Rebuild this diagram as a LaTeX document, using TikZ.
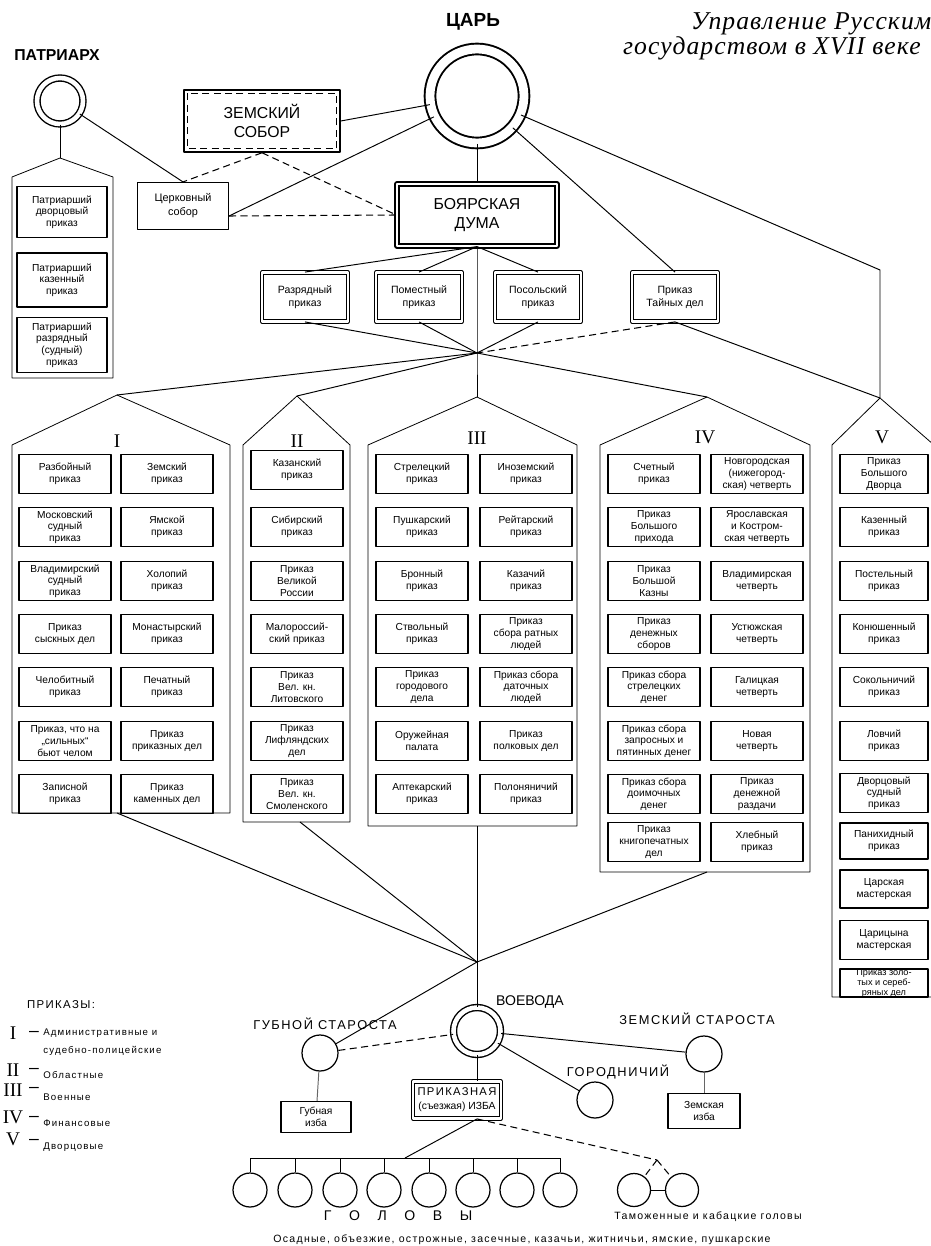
\documentclass[tikz,border=0pt]{standalone}
\usepackage{fontspec}
\setmainfont{Liberation Sans}
\newfontfamily\romfont{Liberation Serif}
\newfontfamily\spfont[LetterSpace=12]{Liberation Sans}
\newfontfamily\ttlfont[LetterSpace=4]{Liberation Serif}
\usepackage{tikz}
\usetikzlibrary{positioning}

\begin{document}
\begin{tikzpicture}[x=0.02cm, y=-0.02cm, line join=round,
   prbox/.style={draw, line width=0.65pt, minimum width=1.84cm, minimum height=0.78cm,
                 inner sep=0.5pt, align=center, font=\fontsize{5.8}{6.6}\selectfont},
   mid/.style={draw, double, double distance=1.3pt, line width=0.5pt, minimum width=1.72cm,
               minimum height=0.98cm, inner sep=1pt, align=center, font=\fontsize{6}{7.4}\selectfont},
   ring/.style={circle, draw, double, inner sep=0pt},
   officer/.style={circle, draw, line width=0.7pt, inner sep=0pt, minimum size=0.72cm},
   house/.style={line width=0.45pt},
   lnk/.style={line width=0.55pt},
   dsh/.style={line width=0.6pt, dash pattern=on 4pt off 2.5pt},
   rom/.style={font=\romfont\fontsize{11}{12}\selectfont, inner sep=0pt},
   capslbl/.style={font=\spfont\fontsize{7.3}{8}\selectfont, inner sep=0pt},
   legtext/.style={font=\spfont\fontsize{5.5}{10.5}\selectfont, inner sep=0pt, anchor=west, align=left}]
  \useasboundingbox (0,0) rectangle (930,1246);

  \node[anchor=north east, align=right, inner sep=0pt,
        font=\ttlfont\itshape\fontsize{14.6}{11.5}\selectfont] (title) at (921,12)
       {Управление Русским\hspace*{-6pt}\\государством в XVII веке};

  \node[ring, minimum size=1.88cm, line width=1.1pt, double distance=5pt] (tsar) at (477,96) {};
  \node[font=\bfseries\fontsize{10.8}{12}\selectfont] (tsarl) at (473,22) {ЦАРЬ};
  \node[ring, minimum size=0.92cm, line width=0.8pt, double distance=2.6pt] (patr) at (60,101) {};
  \node[font=\bfseries\fontsize{9}{10}\selectfont] (patrl) at (57,55) {ПАТРИАРХ};

  \node[draw, line width=0.9pt, minimum width=3.12cm, minimum height=1.24cm, align=center,
        font=\fontsize{9}{11}\selectfont] (zs) at (262,121) {ЗЕМСКИЙ\\СОБОР};
  \draw[dsh, line width=0.7pt] ([shift={(4,4)}]zs.north west) rectangle ([shift={(-4,-4)}]zs.south east);
  \node[prbox, minimum width=1.82cm, minimum height=0.94cm, font=\fontsize{6.2}{8}\selectfont]
       (cerk) at (183,206) {Церковный\\собор};
  \node[draw, double, double distance=1.5pt, line width=0.7pt, minimum width=3.2cm,
        minimum height=1.24cm, align=center, font=\fontsize{9}{11}\selectfont]
       (duma) at (477,215) {БОЯРСКАЯ\\ДУМА};

  \node[mid] (razr)   at (305,297) {Разрядный\\приказ};
  \node[mid] (pomest) at (419,297) {Поместный\\приказ};
  \node[mid] (posol)  at (538,297) {Посольский\\приказ};
  \node[mid] (tain)   at (675,297) {Приказ\\Тайных дел};

  \coordinate (hub)   at (477,353);
  \coordinate (vtop)  at (880,270);
  \coordinate (apP)   at (60,158);
  \coordinate (apI)   at (117,395);
  \coordinate (apII)  at (297,396);
  \coordinate (apIII) at (477,397);
  \coordinate (apIV)  at (707,397);
  \coordinate (apV)   at (880,398);
  \coordinate (ftI)   at (117,813);
  \coordinate (ftII)  at (300,822);
  \coordinate (ftIII) at (477,826);
  \coordinate (ftIV)  at (707,872);
  \coordinate (hubB)  at (477,962);

  \draw[house] (apP) -- (113,177) -- (113,378) -- (12,378) -- (12,177) -- cycle;
  \draw[house] (apI) -- (230,445) -- (230,813) -- (12,813) -- (12,445) -- cycle;
  \draw[house] (apII) -- (350,445) -- (350,822) -- (243,822) -- (243,445) -- cycle;
  \draw[house] (apIII) -- (577,445) -- (577,826) -- (368,826) -- (368,445) -- cycle;
  \draw[house] (apIV) -- (810,445) -- (810,872) -- (600,872) -- (600,445) -- cycle;
  \draw[house] (apV) -- (934,445) -- (934,997) -- (832,997) -- (832,445) -- cycle;

  \node[rom] (nI)   at (117,441) {I};
  \node[rom] (nII)  at (297,441) {II};
  \node[rom] (nIII) at (477,438) {III};
  \node[rom] (nIV)  at (705,437) {IV};
  \node[rom] (nV)   at (882,437) {V};

  \node[prbox, minimum width=1.8cm, minimum height=1.02cm] (patr1) at (62,212) {Патриарший\\дворцовый\\приказ};
  \node[prbox, minimum width=1.8cm, minimum height=1.08cm] (patr2) at (62,280) {Патриарший\\казенный\\приказ};
  \node[prbox, minimum width=1.8cm, minimum height=1.1cm] (patr3) at (62,345) {Патриарший\\разрядный\\(судный)\\приказ};

  \node[prbox] (adm-l1) at (65,474) {Разбойный\\приказ};
  \node[prbox] (adm-l2) at (65,527) {Московский\\судный\\приказ};
  \node[prbox] (adm-l3) at (65,581) {Владимирский\\судный\\приказ};
  \node[prbox] (adm-l4) at (65,634) {Приказ\\сыскных дел};
  \node[prbox] (adm-l5) at (65,687) {Челобитный\\приказ};
  \node[prbox] (adm-l6) at (65,741) {Приказ, что на\\„сильных“\\бьют челом};
  \node[prbox] (adm-l7) at (65,794) {Записной\\приказ};
  \node[prbox] (adm-r1) at (167,474) {Земский\\приказ};
  \node[prbox] (adm-r2) at (167,527) {Ямской\\приказ};
  \node[prbox] (adm-r3) at (167,581) {Холопий\\приказ};
  \node[prbox] (adm-r4) at (167,634) {Монастырский\\приказ};
  \node[prbox] (adm-r5) at (167,687) {Печатный\\приказ};
  \node[prbox] (adm-r6) at (167,741) {Приказ\\приказных дел};
  \node[prbox] (adm-r7) at (167,794) {Приказ\\каменных дел};

  \node[prbox] (obl1) at (297,470) {Казанский\\приказ};
  \node[prbox] (obl2) at (297,527) {Сибирский\\приказ};
  \node[prbox] (obl3) at (297,581) {Приказ\\Великой\\России};
  \node[prbox] (obl4) at (297,634) {Малороссий-\\ский приказ};
  \node[prbox] (obl5) at (297,687) {Приказ\\Вел. кн.\\Литовского};
  \node[prbox] (obl6) at (297,741) {Приказ\\Лифляндских\\дел};
  \node[prbox] (obl7) at (297,794) {Приказ\\Вел. кн.\\Смоленского};

  \node[prbox] (voen-l1) at (422,474) {Стрелецкий\\приказ};
  \node[prbox] (voen-l2) at (422,527) {Пушкарский\\приказ};
  \node[prbox] (voen-l3) at (422,581) {Бронный\\приказ};
  \node[prbox] (voen-l4) at (422,634) {Ствольный\\приказ};
  \node[prbox] (voen-l5) at (422,687) {Приказ\\городового\\дела};
  \node[prbox] (voen-l6) at (422,741) {Оружейная\\палата};
  \node[prbox] (voen-l7) at (422,794) {Аптекарский\\приказ};
  \node[prbox] (voen-r1) at (526,474) {Иноземский\\приказ};
  \node[prbox] (voen-r2) at (526,527) {Рейтарский\\приказ};
  \node[prbox] (voen-r3) at (526,581) {Казачий\\приказ};
  \node[prbox] (voen-r4) at (526,634) {Приказ\\сбора ратных\\людей};
  \node[prbox] (voen-r5) at (526,687) {Приказ сбора\\даточных\\людей};
  \node[prbox] (voen-r6) at (526,741) {Приказ\\полковых дел};
  \node[prbox] (voen-r7) at (526,794) {Полоняничий\\приказ};

  \node[prbox] (fin-l1) at (654,474) {Счетный\\приказ};
  \node[prbox] (fin-l2) at (654,527) {Приказ\\Большого\\прихода};
  \node[prbox] (fin-l3) at (654,581) {Приказ\\Большой\\Казны};
  \node[prbox] (fin-l4) at (654,634) {Приказ\\денежных\\сборов};
  \node[prbox] (fin-l5) at (654,687) {Приказ сбора\\стрелецких\\денег};
  \node[prbox] (fin-l6) at (654,741) {Приказ сбора\\запросных и\\пятинных денег};
  \node[prbox] (fin-l7) at (654,794) {Приказ сбора\\доимочных\\денег};
  \node[prbox] (fin-l8) at (654,842) {Приказ\\книгопечатных\\дел};
  \node[prbox] (fin-r1) at (757,474) {Новгородская\\(нижегород-\\ская) четверть};
  \node[prbox] (fin-r2) at (757,527) {Ярославская\\и Костром-\\ская четверть};
  \node[prbox] (fin-r3) at (757,581) {Владимирская\\четверть};
  \node[prbox] (fin-r4) at (757,634) {Устюжская\\четверть};
  \node[prbox] (fin-r5) at (757,687) {Галицкая\\четверть};
  \node[prbox] (fin-r6) at (757,741) {Новая\\четверть};
  \node[prbox] (fin-r7) at (757,794) {Приказ\\денежной\\раздачи};
  \node[prbox] (fin-r8) at (757,842) {Хлебный\\приказ};

  \node[prbox, minimum width=1.76cm] (dvor1) at (884,474) {Приказ\\Большого\\Дворца};
  \node[prbox, minimum width=1.76cm] (dvor2) at (884,527) {Казенный\\приказ};
  \node[prbox, minimum width=1.76cm] (dvor3) at (884,581) {Постельный\\приказ};
  \node[prbox, minimum width=1.76cm] (dvor4) at (884,634) {Конюшенный\\приказ};
  \node[prbox, minimum width=1.76cm] (dvor5) at (884,687) {Сокольничий\\приказ};
  \node[prbox, minimum width=1.76cm] (dvor6) at (884,741) {Ловчий\\приказ};
  \node[prbox, minimum width=1.76cm] (dvor7) at (884,793) {Дворцовый\\судный\\приказ};
  \node[prbox, minimum width=1.76cm, minimum height=0.72cm] (dvor8) at (884,841) {Панихидный\\приказ};
  \node[prbox, minimum width=1.76cm, minimum height=0.76cm] (dvor9) at (884,889) {Царская\\мастерская};
  \node[prbox, minimum width=1.76cm] (dvor10) at (884,940) {Царицына\\мастерская};
  \node[prbox, minimum width=1.76cm, minimum height=0.56cm, inner sep=0pt,
        font=\fontsize{5.2}{5.6}\selectfont] (dvor11) at (884,983) {Приказ золо-\\тых и сереб-\\ряных дел};

  \draw[lnk] (patr) -- (apP);
  \draw[lnk] (patr) -- (cerk.north);
  \draw[lnk] (tsar) -- (zs.east);
  \draw[lnk] (tsar) -- ([shift={(0,10)}]cerk.east);
  \draw[dsh] (zs.south) -- (cerk.north);
  \draw[dsh] (zs.south) -- (duma.west);
  \draw[dsh] ([shift={(0,10)}]cerk.east) -- (duma.west);
  \draw[lnk] (tsar) -- (duma);
  \draw[lnk] (tsar) -- (tain.north);
  \draw[lnk] (tsar) -- (vtop) -- (apV);
  \draw[lnk] (duma.south) -- (razr.north);
  \draw[lnk] (duma.south) -- (pomest.north);
  \draw[lnk] (duma.south) -- (posol.north);
  \draw[lnk] (duma.south) -- (hub) -- (apIII);
  \draw[lnk] (razr.south) -- (hub);
  \draw[lnk] (pomest.south) -- (hub);
  \draw[lnk] (posol.south) -- (hub);
  \draw[dsh] (tain.south) -- (hub);
  \draw[lnk] (tain.south) -- (apV);
  \draw[lnk] (hub) -- (apI);
  \draw[lnk] (hub) -- (apII);
  \draw[lnk] (hub) -- (apIV);

  \node[ring, minimum size=0.94cm, line width=0.8pt, double distance=2.6pt] (voev) at (477,1031) {};
  \node[inner sep=0pt, font=\fontsize{8}{9}\selectfont] (voevl) at (530,1002) {ВОЕВОДА};
  \node[officer] (gub) at (320,1053) {};
  \node[capslbl] (gubl) at (325,1024) {ГУБНОЙ СТАРОСТА};
  \node[officer] (zem) at (704,1054) {};
  \node[capslbl] (zeml) at (697,1019) {ЗЕМСКИЙ СТАРОСТА};
  \node[officer] (gorod) at (595,1100) {};
  \node[capslbl] (gorodl) at (618,1072) {ГОРОДНИЧИЙ};
  \node[prbox, minimum width=1.4cm, minimum height=0.62cm] (gizba) at (316,1117) {Губная\\изба};
  \node[prbox, minimum width=1.44cm, minimum height=0.7cm] (zizba) at (704,1111) {Земская\\изба};
  \node[draw, double, double distance=1.3pt, line width=0.5pt, minimum width=1.76cm,
        minimum height=0.74cm, inner sep=1pt, align=center, font=\fontsize{5.9}{8}\selectfont]
       (izba) at (457,1100) {{\spfont\fontsize{6.4}{8}\selectfont ПРИКАЗНАЯ}\\(съезжая) ИЗБА};

  \draw[lnk] (ftI) -- (hubB);
  \draw[lnk] (ftII) -- (hubB);
  \draw[lnk] (ftIV) -- (hubB);
  \draw[lnk] (ftIII) -- (voev);
  \draw[lnk] (hubB) -- (gub);
  \draw[dsh] (gub) -- (voev);
  \draw[lnk] (voev) -- (zem);
  \draw[lnk] (voev) -- (gorod);
  \draw[lnk, black!60] (gub) -- (gizba);
  \draw[lnk, black!60] (zem) -- (zizba);
  \draw[lnk] (voev.south) -- (voev.south |- izba.north);

  \foreach \x [count=\k] in {250,295,340,384,429,473,517,560}
    \node[officer, minimum size=0.68cm] (g\k) at (\x,1190) {};
  \coordinate (bus) at (405,1158);
  \draw[lnk] (izba.south -| voev.south) -- (bus);
  \draw[lnk] (g1 |- bus) -- (g8 |- bus);
  \foreach \k in {1,...,8}
    \draw[lnk] (g\k |- bus) -- (g\k);

  \node[officer, minimum size=0.66cm] (t1) at (634,1190) {};
  \node[officer, minimum size=0.66cm] (t2) at (682,1190) {};
  \coordinate (tapex) at (657,1160);
  \draw[dsh] (izba.south -| voev.south) -- (tapex);
  \draw[dsh] (tapex) -- (t1);
  \draw[dsh] (tapex) -- (t2);
  \draw[lnk] (t1) -- (t2);

  \node[font=\fontsize{8}{9}\selectfont, inner sep=0pt] (golovy) at (398,1216)
       {Г\hspace{10pt}О\hspace{10pt}Л\hspace{10pt}О\hspace{10pt}В\hspace{10pt}Ы};
  \node[font=\spfont\fontsize{6}{7}\selectfont, inner sep=0pt] (tamozh) at (708,1217)
       {Таможенные и кабацкие головы};
  \node[font=\spfont\fontsize{6}{7}\selectfont, inner sep=0pt] (osad) at (522,1240)
       {Осадные, объезжие, острожные, засечные, казачьи, житничьи, ямские, пушкарские};

  \node[capslbl, font=\spfont\fontsize{6.5}{8}\selectfont] (legend) at (61,1005) {ПРИКАЗЫ:};
  \node[rom] (lI)   at (13,1033) {I};
  \node[rom] (lII)  at (13,1070) {II};
  \node[rom] (lIII) at (13,1090) {III};
  \node[rom] (lIV)  at (13,1117) {IV};
  \node[rom] (lV)   at (13,1139) {V};
  \node[inner sep=0pt] at (34,1034) {–};
  \node[inner sep=0pt] at (34,1071) {–};
  \node[inner sep=0pt] at (34,1090) {–};
  \node[inner sep=0pt] at (34,1119) {–};
  \node[inner sep=0pt] at (34,1142) {–};
  \node[legtext] (leg1) at (43,1042) {Административные и\\судебно-полицейские};
  \node[legtext] (leg2) at (43,1075) {Областные};
  \node[legtext] (leg3) at (43,1097) {Военные};
  \node[legtext] (leg4) at (43,1123) {Финансовые};
  \node[legtext] (leg5) at (43,1147) {Дворцовые};
\end{tikzpicture}
\end{document}
